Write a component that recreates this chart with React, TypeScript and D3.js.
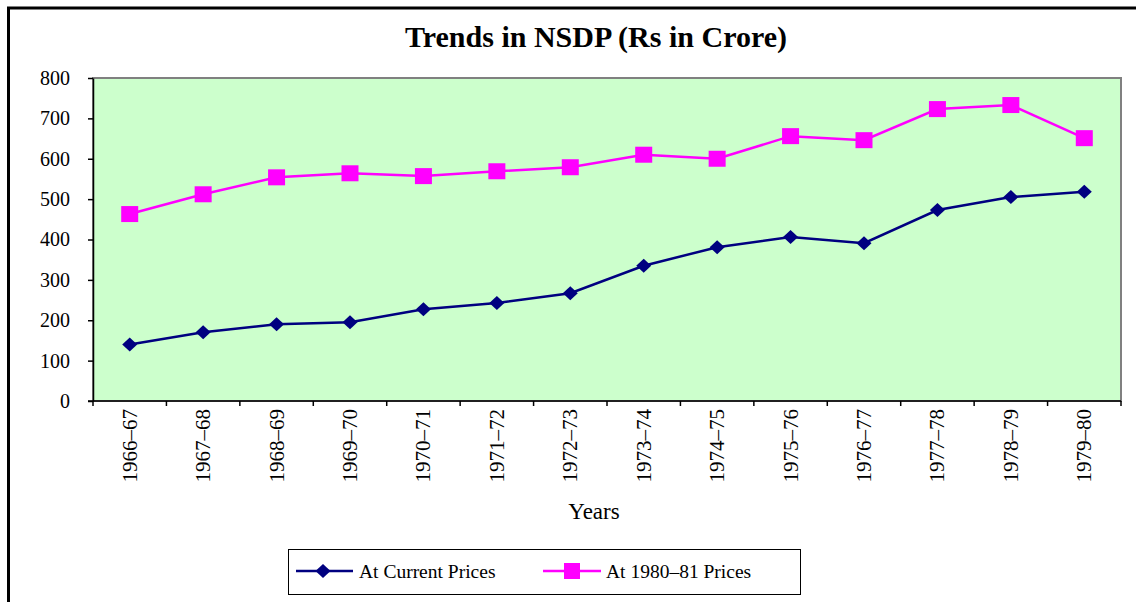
import React, { useEffect, useRef } from "react";
import * as d3 from "d3";

const years = [
  "1966–67", "1967–68", "1968–69", "1969–70", "1970–71", "1971–72", "1972–73",
  "1973–74", "1974–75", "1975–76", "1976–77", "1977–78", "1978–79", "1979–80",
];
const currentPrices = [140, 170, 190, 195, 227, 243, 267, 335, 381, 406, 391, 473, 505, 518];
const constantPrices = [463, 512, 554, 564, 557, 569, 579, 610, 600, 656, 646, 723, 733, 651];
const yTicks = [0, 100, 200, 300, 400, 500, 600, 700, 800];

const FONT = "'Liberation Serif', 'Times New Roman', serif";

const App = () => {
  const ref = useRef<SVGSVGElement>(null);

  useEffect(() => {
    const svg = d3.select(ref.current);
    svg.selectAll("*").remove();

    const W = 1136;
    const H = 602;
    const plot = { left: 93, right: 1121, top: 78, bottom: 401 };

    // outer frame (runs past the right/bottom edge)
    svg
      .append("rect")
      .attr("x", 8.5)
      .attr("y", 8)
      .attr("width", W + 20)
      .attr("height", H + 20)
      .attr("fill", "white")
      .attr("stroke", "black")
      .attr("stroke-width", 3);

    svg
      .append("text")
      .attr("x", 596)
      .attr("y", 47)
      .attr("text-anchor", "middle")
      .attr("font-family", FONT)
      .attr("font-weight", "bold")
      .attr("font-size", 30)
      .text("Trends in NSDP (Rs in Crore)");

    const x = d3.scaleBand().domain(years).range([plot.left, plot.right]);
    const y = d3.scaleLinear().domain([0, 800]).range([plot.bottom, plot.top]);
    const cx = (d: string) => (x(d) as number) + x.bandwidth() / 2;

    // plot area
    svg
      .append("rect")
      .attr("x", plot.left)
      .attr("y", plot.top)
      .attr("width", plot.right - plot.left)
      .attr("height", plot.bottom - plot.top)
      .attr("fill", "#CCFFCC")
      .attr("stroke", "#808080")
      .attr("stroke-width", 2);

    // y axis
    const yAxis = svg
      .append("g")
      .attr("transform", `translate(${plot.left},0)`)
      .call(d3.axisLeft(y).tickValues(yTicks).tickSize(5).tickSizeOuter(0).tickPadding(18));
    yAxis.attr("font-family", FONT);
    yAxis.select(".domain").attr("stroke", "black").attr("stroke-width", 1.5);
    yAxis.selectAll("line").attr("stroke", "black").attr("stroke-width", 1.5);
    yAxis
      .selectAll("text")
      .attr("font-family", FONT)
      .attr("font-size", 20)
      .attr("fill", "black");

    // x axis
    svg
      .append("line")
      .attr("x1", plot.left - 5)
      .attr("x2", plot.right)
      .attr("y1", plot.bottom)
      .attr("y2", plot.bottom)
      .attr("stroke", "black")
      .attr("stroke-width", 1.5);
    const edges = years.map((d) => x(d) as number).concat([plot.right]);
    svg
      .selectAll(".xtick")
      .data(edges)
      .enter()
      .append("line")
      .attr("x1", (d) => d)
      .attr("x2", (d) => d)
      .attr("y1", plot.bottom)
      .attr("y2", plot.bottom + 5)
      .attr("stroke", "black")
      .attr("stroke-width", 1.5);
    svg
      .selectAll(".xlabel")
      .data(years)
      .enter()
      .append("text")
      .attr("transform", (d) => `translate(${cx(d) + 7},${plot.bottom + 8}) rotate(-90)`)
      .attr("text-anchor", "end")
      .attr("font-family", FONT)
      .attr("font-size", 21)
      .text((d) => d);

    svg
      .append("text")
      .attr("x", 594)
      .attr("y", 519)
      .attr("text-anchor", "middle")
      .attr("font-family", FONT)
      .attr("font-size", 23)
      .text("Years");

    const line = d3
      .line<number>()
      .x((_, i) => cx(years[i]))
      .y((d) => y(d));

    const navy = "#000080";
    const pink = "#FF00FF";

    svg
      .append("path")
      .datum(constantPrices)
      .attr("d", line)
      .attr("fill", "none")
      .attr("stroke", pink)
      .attr("stroke-width", 2.5);
    svg
      .selectAll(".sq")
      .data(constantPrices)
      .enter()
      .append("rect")
      .attr("x", (_, i) => cx(years[i]) - 8.5)
      .attr("y", (d) => y(d) - 8)
      .attr("width", 17)
      .attr("height", 16)
      .attr("fill", pink);

    svg
      .append("path")
      .datum(currentPrices)
      .attr("d", line)
      .attr("fill", "none")
      .attr("stroke", navy)
      .attr("stroke-width", 2.5);
    const diamond = "M0,-7L7.5,0L0,7L-7.5,0Z";
    svg
      .selectAll(".dm")
      .data(currentPrices)
      .enter()
      .append("path")
      .attr("d", diamond)
      .attr("transform", (d, i) => `translate(${cx(years[i])},${y(d)})`)
      .attr("fill", navy);

    // legend
    const lg = svg.append("g");
    lg.append("rect")
      .attr("x", 288.5)
      .attr("y", 549.5)
      .attr("width", 512)
      .attr("height", 45)
      .attr("fill", "white")
      .attr("stroke", "black")
      .attr("stroke-width", 1);
    lg.append("line")
      .attr("x1", 296)
      .attr("x2", 353)
      .attr("y1", 571)
      .attr("y2", 571)
      .attr("stroke", navy)
      .attr("stroke-width", 2.5);
    lg.append("path")
      .attr("d", diamond)
      .attr("transform", "translate(323,571)")
      .attr("fill", navy);
    lg.append("text")
      .attr("x", 359)
      .attr("y", 578)
      .attr("font-family", FONT)
      .attr("font-size", 19.5)
      .text("At Current Prices");
    lg.append("line")
      .attr("x1", 543)
      .attr("x2", 601)
      .attr("y1", 571)
      .attr("y2", 571)
      .attr("stroke", pink)
      .attr("stroke-width", 2.5);
    lg.append("rect")
      .attr("x", 564)
      .attr("y", 563)
      .attr("width", 16)
      .attr("height", 16)
      .attr("fill", pink);
    lg.append("text")
      .attr("x", 606)
      .attr("y", 578)
      .attr("font-family", FONT)
      .attr("font-size", 19.5)
      .text("At 1980–81 Prices");
  }, []);

  return (
    <svg
      ref={ref}
      width={1136}
      height={602}
      style={{ position: "absolute", left: 0, top: 0, background: "white" }}
    />
  );
};

export default App;
